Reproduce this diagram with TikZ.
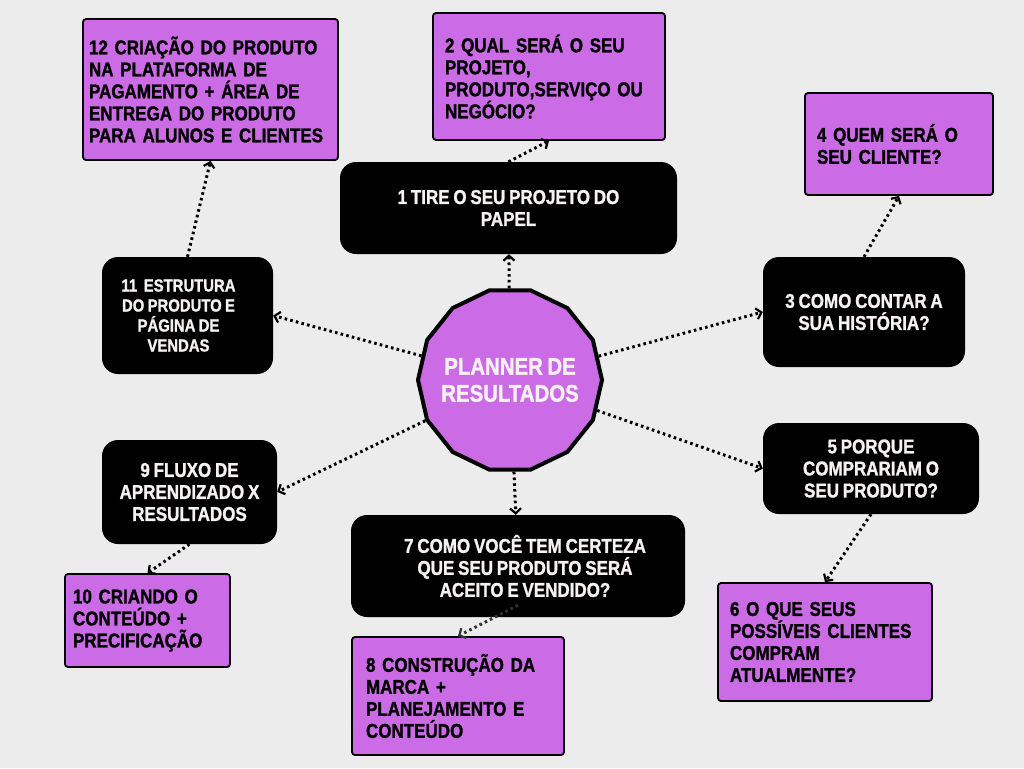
\documentclass[tikz,border=0pt]{standalone}
\usepackage{fontspec}
\setmainfont{Liberation Sans}[FakeStretch=0.85, WordSpace=0.8, BoldFeatures={FakeBold=1.2}]
\usepackage{xcolor}
\usetikzlibrary{shapes.geometric, arrows.meta, positioning, calc}

\definecolor{bgray}{HTML}{ECECEC}
\definecolor{lilac}{HTML}{CB6CE6}
\definecolor{offwhite}{HTML}{F7F2F2}

\tikzset{
	pbox/.style={draw=black, fill=lilac, line width=1.8pt, rounded corners=3pt, inner xsep=0pt, align=left,
		font=\bfseries\fontsize{20}{22}\selectfont, text=black},
	bbox/.style={fill=black, rounded corners=16pt, inner sep=0pt, align=center,
		font=\bfseries\fontsize{20}{22}\selectfont, text=offwhite},
	hubnode/.style={regular polygon, regular polygon sides=14, inner sep=-20pt, minimum size=184pt, draw=black, fill=lilac,
		line width=4pt, align=center, font=\bfseries\fontsize{24}{27}\selectfont, text=offwhite},
	link/.style={line width=3pt, dash pattern=on 2.6pt off 3.2pt, -{Straight Barb[length=5pt,width=11pt,line width=2.2pt]}}
}

\begin{document}
\begin{tikzpicture}[x=1pt, y=-1pt]
		\useasboundingbox[fill=bgray] (0,0) rectangle (1024,768);
		
		% centro
		\node[hubnode] (hub) at (510,380) {PLANNER DE\\RESULTADOS};
		
		% caixas pretas
		\node[bbox, minimum width=337pt, minimum height=92pt] (b1) at (508.5,208) {1 TIRE O SEU PROJETO DO\\PAPEL};
		\node[bbox, minimum width=202pt, minimum height=110pt] (b3) at (864,312) {3 COMO CONTAR A\\SUA HISTÓRIA?};
		\node[bbox, minimum width=216pt, minimum height=91pt] (b5) at (871,468.5) {5 PORQUE\\COMPRARIAM O\\SEU PRODUTO?};
		\node[bbox, minimum width=334pt, minimum height=102pt] (b7) at (518,566) {\hspace*{14pt}7 COMO VOCÊ TEM CERTEZA\\\hspace*{14pt}QUE SEU PRODUTO SERÁ\\\hspace*{14pt}ACEITO E VENDIDO?};
		\node[bbox, minimum width=175pt, minimum height=104pt] (b9) at (189.5,492) {9 FLUXO DE\\APRENDIZADO X\\RESULTADOS};
		\node[bbox, minimum width=171pt, minimum height=117pt, font=\bfseries\fontsize{17.5}{20}\selectfont] (b11) at (187.5,315.5)
			{\hspace*{-18pt}11\ \ ESTRUTURA\\\hspace*{-18pt}DO PRODUTO E\\\hspace*{-18pt}PÁGINA DE\\\hspace*{-18pt}VENDAS};
		
		% caixas lilases
		\node[pbox, minimum width=255pt, minimum height=141pt, text width=243pt] (b12) at (210.5,89.5) {12 CRIAÇÃO DO PRODUTO\\NA PLATAFORMA DE\\PAGAMENTO + ÁREA DE\\ENTREGA DO PRODUTO\\PARA ALUNOS E CLIENTES};
		\node[pbox, minimum width=232pt, minimum height=127pt, text width=208pt] (b2) at (549,76.5) {2 QUAL SERÁ O SEU\\PROJETO,\\PRODUTO,SERVIÇO OU\\NEGÓCIO?};
		\node[pbox, minimum width=188pt, minimum height=102pt, text width=164pt] (b4) at (899,144) {4 QUEM SERÁ O\\SEU CLIENTE?};
		\node[pbox, minimum width=214pt, minimum height=118pt, text width=190pt] (b6) at (825,642) {6 O QUE SEUS\\POSSÍVEIS CLIENTES\\COMPRAM\\ATUALMENTE?};
		\node[pbox, minimum width=212pt, minimum height=118pt, text width=184pt] (b8) at (458,696) {8 CONSTRUÇÃO DA\\MARCA +\\PLANEJAMENTO E\\CONTEÚDO};
		\node[pbox, minimum width=165pt, minimum height=93pt, text width=149pt] (b10) at (147.5,620.5) {10 CRIANDO O\\CONTEÚDO +\\PRECIFICAÇÃO};
		
		% ligacoes do centro
		\draw[link] (hub) -- (b1);
		\draw[link] (hub) -- (b3.west);
		\draw[link] (hub) -- (b5.west);
		\draw[link] (hub) -- (b7);
		\draw[link] (hub) -- (b9.east);
		\draw[link] (hub) -- (b11.east);
		
		% ligacoes externas
		\draw[link] (b1.north) -- (b2.south);
		\draw[link] (b3.north) -- (b4.south);
		\draw[link] (b5.south) -- (b6.north);
		\draw[link, draw=black!80] (b7.south) ++(0,-12) -- (b8.north);
		\draw[link] (b9.south) -- (b10.north);
		\draw[link] (b11.north) -- (b12.south);
	  \end{tikzpicture}
\end{document}
